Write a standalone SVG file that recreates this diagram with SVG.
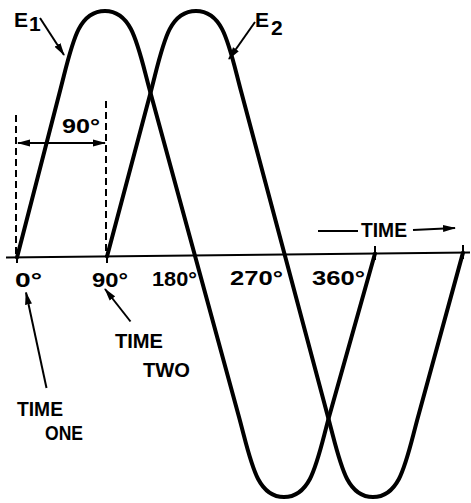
<svg xmlns="http://www.w3.org/2000/svg" width="471" height="503" viewBox="0 0 471 503">
<style>
.wave{fill:none;stroke:#000;stroke-width:4;stroke-linejoin:round;stroke-linecap:round}
.thin{fill:none;stroke:#000;stroke-width:2}
.dash{fill:none;stroke:#000;stroke-width:2;stroke-dasharray:7 4}
.lbl{font-family:"Liberation Sans",Arial,sans-serif;font-weight:bold;font-size:21px;fill:#000}
</style>
<defs>
<marker id="ah" markerWidth="13" markerHeight="8" refX="12" refY="4" orient="auto-start-reverse" markerUnits="userSpaceOnUse">
<path d="M0,0.5 L13,4 L0,7.5 z" fill="#000"/>
</marker>
</defs>
<rect width="471" height="503" fill="#fff"/>
<g id="axis">
<line class="thin" x1="6" y1="257.5" x2="470" y2="252.5"/>
<line class="thin" x1="17" y1="252" x2="17" y2="263"/>
<line class="thin" x1="107" y1="252" x2="107" y2="263"/>
<line class="thin" x1="375" y1="246" x2="375" y2="260"/>
<line class="thin" x1="463" y1="245" x2="463" y2="259"/>
</g>
<g id="E1">
<path class="wave" d="M17,257.4 L60,91 C72,45 77,11 105,11 C133,11 138,47 150,91 L239,417 C251,461 256,497 284,497 C312,497 317,461 329,417 L375,253.5"/>
</g>
<g id="E2">
<path class="wave" d="M107,256.4 L151,91 C163,45 168,11 196,11 C224,11 229,46 241,91 L328,417 C340,461 345,497 373,497 C401,497 406,461 418,417 L463,252.6"/>
</g>
<g id="connectors">
<line class="dash" x1="16" y1="115" x2="16" y2="256"/>
<line class="dash" x1="106" y1="101" x2="106" y2="256"/>
<line class="thin" x1="18" y1="143" x2="105" y2="143" marker-start="url(#ah)" marker-end="url(#ah)"/>
<line class="thin" x1="40" y1="18" x2="64" y2="55" marker-end="url(#ah)"/>
<line class="thin" x1="255" y1="22" x2="229" y2="59" marker-end="url(#ah)"/>
<line class="thin" x1="130.5" y1="321.5" x2="105" y2="289" marker-end="url(#ah)"/>
<line class="thin" x1="46.5" y1="388" x2="26" y2="292.5" marker-end="url(#ah)"/>
<line class="thin" x1="318" y1="231" x2="358" y2="231"/>
<line class="thin" x1="413" y1="230" x2="455" y2="228" marker-end="url(#ah)"/>
</g>
<g id="labels">
<text class="lbl" x="14" y="27" font-size="20">E</text>
<text class="lbl" x="29" y="31" font-size="17">1</text>
<text class="lbl" x="255" y="27" font-size="20">E</text>
<text class="lbl" x="271" y="35" font-size="17">2</text>
<text class="lbl" x="62" y="133" textLength="38" lengthAdjust="spacingAndGlyphs">90°</text>
<text class="lbl" x="15" y="287" textLength="27" lengthAdjust="spacingAndGlyphs">0°</text>
<text class="lbl" x="92" y="287" textLength="36" lengthAdjust="spacingAndGlyphs">90°</text>
<text class="lbl" x="152" y="286" textLength="45" lengthAdjust="spacingAndGlyphs">180°</text>
<text class="lbl" x="230" y="285" textLength="53" lengthAdjust="spacingAndGlyphs">270°</text>
<text class="lbl" x="312" y="285" textLength="53" lengthAdjust="spacingAndGlyphs">360°</text>
<text class="lbl" x="361" y="237" textLength="46" lengthAdjust="spacingAndGlyphs">TIME</text>
<text class="lbl" x="115" y="348" textLength="48" lengthAdjust="spacingAndGlyphs">TIME</text>
<text class="lbl" x="143" y="377" textLength="47" lengthAdjust="spacingAndGlyphs">TWO</text>
<text class="lbl" x="17" y="416" textLength="46" lengthAdjust="spacingAndGlyphs">TIME</text>
<text class="lbl" x="45" y="440" textLength="38" lengthAdjust="spacingAndGlyphs">ONE</text>
</g>
</svg>
